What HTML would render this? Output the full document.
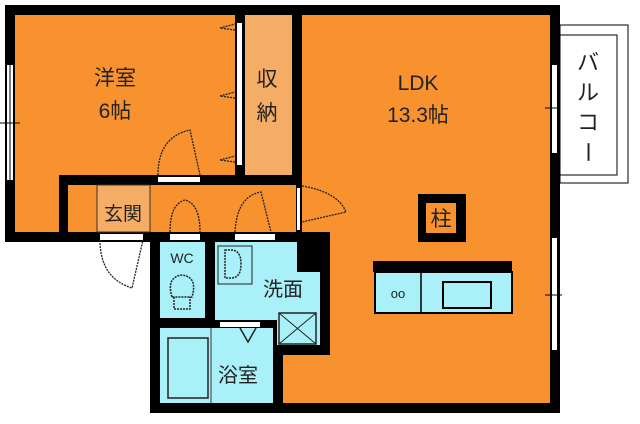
<!DOCTYPE html>
<html><head><meta charset="utf-8"><style>
html,body{margin:0;padding:0;background:#fff;width:640px;height:424px;overflow:hidden}
svg{display:block}
text{font-family:"Liberation Sans","Noto Sans CJK JP",sans-serif;fill:#222}
</style></head><body>
<svg width="640" height="424" viewBox="0 0 640 424" xmlns="http://www.w3.org/2000/svg">
<rect width="640" height="424" fill="#fff"/>
<rect x="5" y="5" width="555" height="237" fill="#000"/>
<rect x="150" y="232" width="410" height="181" fill="#000"/>
<rect x="15" y="15" width="220" height="160" fill="#f7922f"/>
<rect x="15" y="175" width="44" height="57" fill="#f7922f"/>
<rect x="245" y="15" width="47" height="160" fill="#f5ad66"/>
<rect x="237" y="23" width="5" height="142" fill="#fff"/>
<rect x="68" y="185" width="228" height="47" fill="#f7922f"/>
<rect x="97" y="185" width="53" height="47" fill="#f5ad66" stroke="#333" stroke-width="1"/>
<!-- LDK -->
<rect x="302" y="15" width="248" height="217" fill="#f7922f"/>
<rect x="330" y="232" width="220" height="171" fill="#f7922f"/>
<rect x="283" y="355" width="47" height="48" fill="#f7922f"/>
<!-- wet area -->
<rect x="160" y="242" width="45" height="76" fill="#aaf0f8"/>
<rect x="215" y="242" width="82" height="78" fill="#aaf0f8"/>
<rect x="297" y="272" width="23" height="48" fill="#aaf0f8"/>
<rect x="277" y="305" width="43" height="40" fill="#aaf0f8"/>
<rect x="160" y="328" width="113" height="75" fill="#aaf0f8"/>
<line x1="211" y1="328" x2="211" y2="403" stroke="#333"/>
<rect x="279" y="313" width="37" height="31" fill="none" stroke="#222" stroke-width="1.5"/>
<line x1="279" y1="313" x2="316" y2="344" stroke="#222"/><line x1="316" y1="313" x2="279" y2="344" stroke="#222"/>
<rect x="218" y="246" width="34" height="38" fill="none" stroke="#222"/>
<path d="M225 250 h6 q10 0 10 14 q0 14 -10 14 h-6 z" fill="none" stroke="#222" stroke-width="1.5" stroke-dasharray="2 1"/>
<path d="M172 297 q-6 -20 10 -22 q16 2 10 22 z M174 297 v12 h16 v-12" fill="none" stroke="#222" stroke-width="1.5" stroke-dasharray="2 1"/>
<rect x="168" y="338" width="40" height="60" fill="none" stroke="#222" stroke-width="1.5"/>
<rect x="220" y="322" width="40" height="5" fill="#fff"/>
<path d="M240 328 l8 14 l8 -14" fill="none" stroke="#222" stroke-width="1.5"/>
<rect x="158" y="177" width="42" height="5" fill="#fff"/>
<rect x="100" y="234" width="43" height="6" fill="#fff"/>
<rect x="170" y="234" width="30" height="6" fill="#fff"/>
<rect x="235" y="234" width="40" height="6" fill="#fff"/>
<rect x="297" y="188" width="3" height="42" fill="#fff"/>
<g fill="none" stroke="#222" stroke-width="1.3" stroke-dasharray="2 1">
<path d="M158 175 q0 -38 32 -45 l10 45"/>
<path d="M100 240 q0 38 32 48 l11 -48"/>
<path d="M170 232 q0 -28 15 -32 q15 4 15 32"/>
<path d="M235 232 q2 -36 26 -40 l10 40"/>
<path d="M302 186 q36 6 44 26 l-44 10"/>
<path d="M235 30 l-15 -2 l15 -4"/>
<path d="M235 98 l-15 -2 l15 -4"/>
<path d="M235 162 l-15 -2 l15 -4"/>
</g>
<rect x="7" y="65" width="6" height="115" fill="#fff"/>
<line x1="10" y1="65" x2="10" y2="180" stroke="#000"/>
<line x1="0" y1="123" x2="20" y2="123" stroke="#000"/>
<rect x="552" y="65" width="5" height="88" fill="#fff"/>
<rect x="552" y="238" width="5" height="112" fill="#fff"/>
<line x1="545" y1="108" x2="562" y2="108" stroke="#000"/>
<line x1="545" y1="295" x2="562" y2="295" stroke="#000"/>
<rect x="560" y="25" width="68" height="158" fill="#fff" stroke="#000" stroke-width="1"/>
<rect x="560" y="35" width="57" height="140" fill="#fff" stroke="#000" stroke-width="1"/>
<rect x="418" y="194" width="48" height="48" fill="#000"/>
<rect x="426" y="203" width="30" height="30" fill="#f7922f"/>
<rect x="373" y="261" width="139" height="11" fill="#000"/>
<rect x="375" y="272" width="137" height="41" fill="#aaf0f8" stroke="#000" stroke-width="2"/>
<line x1="421" y1="272" x2="421" y2="313" stroke="#000" stroke-width="1.5"/>
<rect x="443" y="282" width="48" height="26" fill="none" stroke="#000" stroke-width="2"/>
<text x="115" y="85" font-size="21" text-anchor="middle">洋室</text>
<text x="115" y="118" font-size="21" text-anchor="middle">6帖</text>
<text x="267" y="86" font-size="21" text-anchor="middle">収</text>
<text x="267" y="120" font-size="21" text-anchor="middle">納</text>
<text x="418" y="90" font-size="21" text-anchor="middle">LDK</text>
<text x="418" y="122" font-size="21" text-anchor="middle">13.3帖</text>
<text x="441" y="226" font-size="21" text-anchor="middle">柱</text>
<text x="123" y="220" font-size="19" text-anchor="middle">玄関</text>
<text x="182" y="263" font-size="14" text-anchor="middle">WC</text>
<text x="283" y="296" font-size="20" text-anchor="middle">洗面</text>
<text x="238" y="382" font-size="20" text-anchor="middle">浴室</text>
<text x="398" y="298" font-size="13" text-anchor="middle">oo</text>
<g font-size="22" text-anchor="middle">
<text x="588" y="70">バ</text><text x="588" y="100">ル</text><text x="588" y="130">コ</text><text x="588" y="160" transform="rotate(90 588 152)">ー</text>
</g>
</svg>
</body></html>
